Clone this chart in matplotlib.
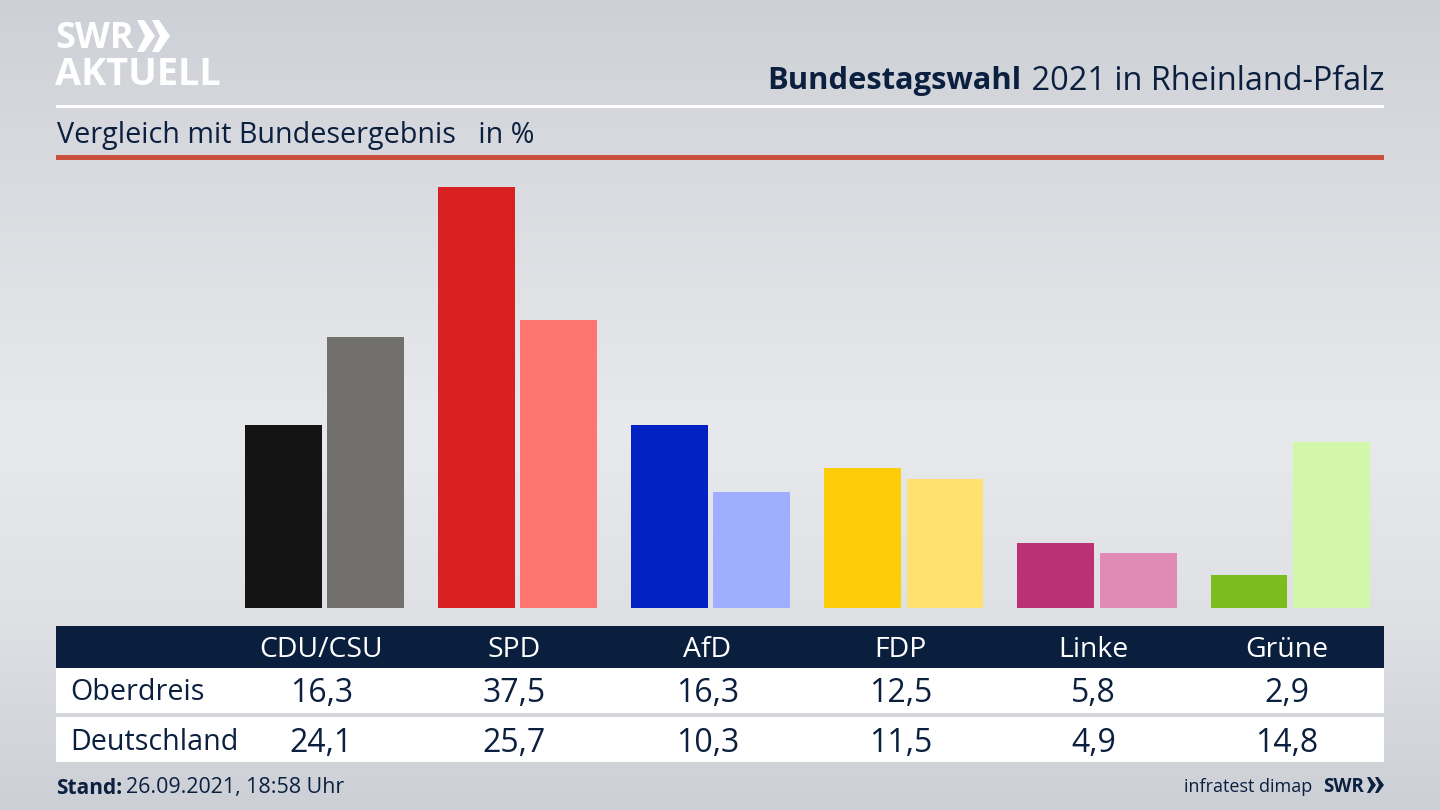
import numpy as np
import matplotlib
matplotlib.use("Agg")
import matplotlib.pyplot as plt
from matplotlib.patches import Rectangle, Polygon
from matplotlib.transforms import blended_transform_factory

parties = ["CDU/CSU", "SPD", "AfD", "FDP", "Linke", "Grüne"]
oberdreis = [16.3, 37.5, 16.3, 12.5, 5.8, 2.9]
deutschland = [24.1, 25.7, 10.3, 11.5, 4.9, 14.8]
colors_local = ["#141414", "#d7201f", "#0222c4", "#ffcc0a", "#bc3076", "#7abd1c"]
colors_nat = ["#72706d", "#ff7570", "#a0aeff", "#ffe070", "#e08ab6", "#d3f7a8"]
row_names = ["Oberdreis", "Deutschland"]
title_bold = "Bundestagswahl"
title_rest = " 2021 in Rheinland-Pfalz"
subtitle = "Vergleich mit Bundesergebnis   in %"
stand_bold = "Stand:"
stand_rest = "26.09.2021, 18:58 Uhr"
source = "infratest dimap"

W, H = 1440, 810
NAVY = "#0b1f3f"
FONT = "Open Sans"
plt.rcParams["font.family"] = [FONT, "DejaVu Sans"]

fig = plt.figure(figsize=(W / 100, H / 100), dpi=100)

# background gradient + layout layer in pixel coordinates
bg = fig.add_axes([0, 0, 1, 1], zorder=0)
bg.set_xlim(0, W)
bg.set_ylim(H, 0)
bg.axis("off")
stops_y = [0, 160, 430, 620, 810]
stops_v = [(205, 208, 214), (216, 218, 223), (232, 233, 236), (222, 224, 228), (204, 207, 213)]
yy = np.arange(H)
grad = np.stack([np.interp(yy, stops_y, [s[c] for s in stops_v]) for c in range(3)], axis=-1) / 255
bg.imshow(grad[:, None, :], extent=[0, W, H, 0], aspect="auto", zorder=0)

# rules
bg.add_patch(Rectangle((56, 104.5), 1328, 3, color="white", lw=0, zorder=1))
bg.add_patch(Rectangle((56, 155), 1328, 5, color="#c8503c", lw=0, zorder=1))

# table backgrounds
bg.add_patch(Rectangle((56, 626), 1328, 42, color="#0a1f3e", lw=0, zorder=1))
bg.add_patch(Rectangle((56, 668), 1328, 45, color="white", lw=0, zorder=1))
bg.add_patch(Rectangle((56, 717), 1328, 45, color="white", lw=0, zorder=1))

# logo
bg.text(55, 39, "SWR", color="white", fontsize=26, fontweight="bold", family="Open Sans",
        va="center", ha="left", zorder=3)
bg.text(55, 75, "AKTUELL", color="white", fontsize=27.3, fontweight="bold", family="Open Sans",
        va="center", ha="left", zorder=3)
for x0 in (137, 152):
    bg.add_patch(Polygon([(x0, 20), (x0 + 7, 20), (x0 + 18, 36), (x0 + 7, 52), (x0, 52), (x0 + 8, 36)],
                         closed=True, color="white", lw=0, zorder=3))
# small logo
bg.text(1323, 787, "SWR", color=NAVY, fontsize=13.5, fontweight="bold", va="center", ha="left", zorder=3)
for x0 in (1367, 1375):
    bg.add_patch(Polygon([(x0, 777), (x0 + 3, 777), (x0 + 9, 785), (x0 + 3, 793), (x0, 793), (x0 + 4, 785)],
                         closed=True, color=NAVY, lw=0, zorder=3))

# titles
bg.text(1384, 81, title_rest, color=NAVY, fontsize=23.4, va="center", ha="right", zorder=3)
bg.text(1021, 81, title_bold, color=NAVY, fontsize=22.2, fontweight="bold", va="center", ha="right", zorder=3)
bg.text(57, 135, subtitle, color=NAVY, fontsize=20.7, va="center", ha="left", zorder=3)

# bars
ax = fig.add_axes([56 / W, 1 - 608 / H, 1328 / W, 448 / H], zorder=1)
ax.patch.set_alpha(0)
ax.axis("off")
ax.set_xlim(-1.390, 5.487)
ax.set_ylim(0, 448 / 11.225)
x = np.arange(len(parties))
ax.bar(x - 0.2123, oberdreis, width=0.398, color=colors_local, linewidth=0)
ax.bar(x + 0.2135, deutschland, width=0.398, color=colors_nat, linewidth=0)

# table text, columns follow the bar categories
trans = blended_transform_factory(ax.transData, bg.transData)
for i, p in enumerate(parties):
    cx = i - 0.016
    ax.text(cx, 650, p, transform=trans, color="white", fontsize=20.4, ha="center", va="center", clip_on=False)
    ax.text(cx, 694, f"{oberdreis[i]:.1f}".replace(".", ","), transform=trans, color=NAVY,
            fontsize=23, ha="center", va="center", clip_on=False)
    ax.text(cx, 743, f"{deutschland[i]:.1f}".replace(".", ","), transform=trans, color=NAVY,
            fontsize=23, ha="center", va="center", clip_on=False)
bg.text(70, 693, row_names[0], color=NAVY, fontsize=20.6, va="center", ha="left", zorder=3)
bg.text(70, 742, row_names[1], color=NAVY, fontsize=20.6, va="center", ha="left", zorder=3)

# footer
bg.text(56, 788, stand_bold, color=NAVY, fontsize=15, fontweight="bold", va="center", ha="left", zorder=3)
bg.text(126, 788, stand_rest, color=NAVY, fontsize=15.4, va="center", ha="left", zorder=3)
bg.text(1312, 787, source, color=NAVY, fontsize=13, va="center", ha="right", zorder=3)

fig.savefig("out.png", dpi=100)
